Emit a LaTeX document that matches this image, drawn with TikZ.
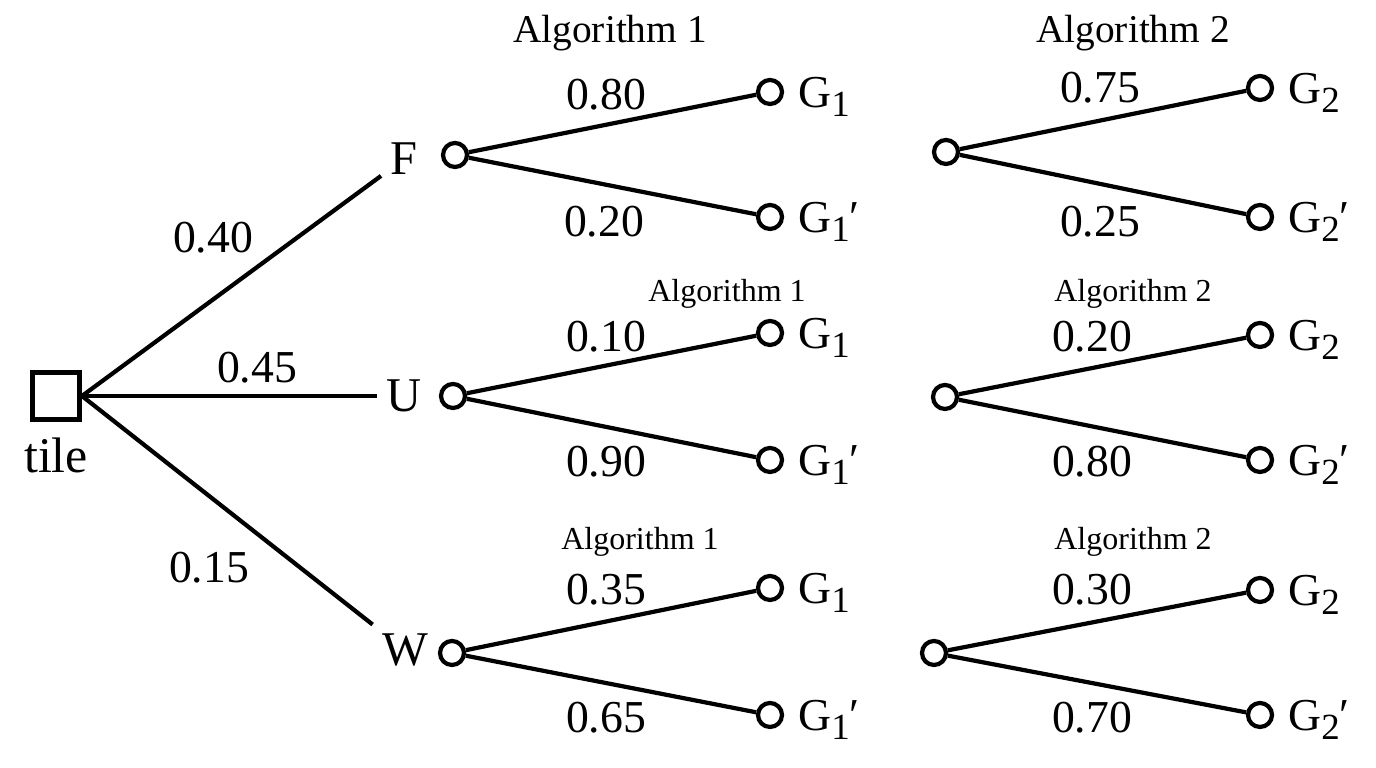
\documentclass[tikz,border=0pt]{standalone}
\usepackage{fontspec}
\setmainfont{Liberation Serif}
\usetikzlibrary{positioning}
\newcommand{\leafsub}[1]{\raisebox{-0.4ex}{\fontsize{10.5}{12}\selectfont #1}}

\begin{document}
\begin{tikzpicture}[
    chance/.style={circle, draw, line width=1.2pt, minimum size=0.24cm, inner sep=0pt},
    branch/.style={line width=1.2pt},
    prob/.style={font=\fontsize{13}{15}\selectfont, inner sep=1pt},
    state/.style={font=\fontsize{13.8}{16}\selectfont, inner sep=2.5pt},
    leaf/.style={font=\fontsize{13}{15}\selectfont, inner sep=1pt, anchor=west, yshift=-0.05cm},
    algbig/.style={font=\fontsize{11.2}{13}\selectfont},
    algsmall/.style={font=\fontsize{9.1}{11}\selectfont}]
  \useasboundingbox (0,0) rectangle (13.76,7.68);

  % root decision
  \node[draw, line width=1.4pt, minimum size=0.47cm, inner sep=0pt] (tile) at (0.56,3.72) {};
  \node[state, font=\fontsize{14.2}{16}\selectfont, below=0.06cm of tile] (tilelbl) {tile};
  \node[state] (F) at (4.04,6.09) {F};
  \node[state] (U) at (4.04,3.72) {U};
  \node[state] (W) at (4.05,1.18) {W};
  \draw[branch] (tile.east) -- (F);
  \draw[branch] (tile.east) -- (U);
  \draw[branch] (tile.east) -- (W);
  \node[prob] (pF) at (2.13,5.30) {0.40};
  \node[prob] (pU) at (2.57,4.00) {0.45};
  \node[prob] (pW) at (2.09,2.00) {0.15};

  % F branch
  \node[algbig] (fAlg1) at (6.10,7.35) {Algorithm 1};
  \node[algbig] (fAlg2) at (11.33,7.35) {Algorithm 2};
  \node[chance] (fA) at (4.55,6.13) {};
  \node[chance] (fA1) at (7.70,6.76) {};
  \node[chance] (fA1p) at (7.70,5.51) {};
  \draw[branch] (fA) -- (fA1);
  \draw[branch] (fA) -- (fA1p);
  \node[prob] (fp1) at (6.06,6.73) {0.80};
  \node[prob] (fp1p) at (6.04,5.46) {0.20};
  \node[leaf, right=0.1cm of fA1] (fA1l) {G\leafsub{1}};
  \node[leaf, right=0.1cm of fA1p] (fA1pl) {G\leafsub{1}′};
  \node[chance] (fB) at (9.46,6.16) {};
  \node[chance] (fB2) at (12.60,6.80) {};
  \node[chance] (fB2p) at (12.60,5.51) {};
  \draw[branch] (fB) -- (fB2);
  \draw[branch] (fB) -- (fB2p);
  \node[prob] (fp2) at (11.00,6.80) {0.75};
  \node[prob] (fp2p) at (11.00,5.46) {0.25};
  \node[leaf, right=0.1cm of fB2] (fB2l) {G\leafsub{2}};
  \node[leaf, right=0.1cm of fB2p] (fB2pl) {G\leafsub{2}′};

  % U branch
  \node[algsmall] (uAlg1) at (7.27,4.74) {Algorithm 1};
  \node[algsmall] (uAlg2) at (11.33,4.74) {Algorithm 2};
  \node[chance] (uA) at (4.53,3.72) {};
  \node[chance] (uA1) at (7.70,4.35) {};
  \node[chance] (uA1p) at (7.70,3.08) {};
  \draw[branch] (uA) -- (uA1);
  \draw[branch] (uA) -- (uA1p);
  \node[prob] (up1) at (6.06,4.31) {0.10};
  \node[prob] (up1p) at (6.06,3.06) {0.90};
  \node[leaf, right=0.1cm of uA1] (uA1l) {G\leafsub{1}};
  \node[leaf, right=0.1cm of uA1p] (uA1pl) {G\leafsub{1}′};
  \node[chance] (uB) at (9.45,3.71) {};
  \node[chance] (uB2) at (12.60,4.33) {};
  \node[chance] (uB2p) at (12.60,3.08) {};
  \draw[branch] (uB) -- (uB2);
  \draw[branch] (uB) -- (uB2p);
  \node[prob] (up2) at (10.92,4.31) {0.20};
  \node[prob] (up2p) at (10.92,3.06) {0.80};
  \node[leaf, right=0.1cm of uB2] (uB2l) {G\leafsub{2}};
  \node[leaf, right=0.1cm of uB2p] (uB2pl) {G\leafsub{2}′};

  % W branch
  \node[algsmall] (wAlg1) at (6.40,2.26) {Algorithm 1};
  \node[algsmall] (wAlg2) at (11.33,2.26) {Algorithm 2};
  \node[chance] (wA) at (4.52,1.15) {};
  \node[chance] (wA1) at (7.70,1.80) {};
  \node[chance] (wA1p) at (7.70,0.53) {};
  \draw[branch] (wA) -- (wA1);
  \draw[branch] (wA) -- (wA1p);
  \node[prob] (wp1) at (6.06,1.78) {0.35};
  \node[prob] (wp1p) at (6.06,0.50) {0.65};
  \node[leaf, right=0.1cm of wA1] (wA1l) {G\leafsub{1}};
  \node[leaf, right=0.1cm of wA1p] (wA1pl) {G\leafsub{1}′};
  \node[chance] (wB) at (9.34,1.15) {};
  \node[chance] (wB2) at (12.60,1.78) {};
  \node[chance] (wB2p) at (12.60,0.53) {};
  \draw[branch] (wB) -- (wB2);
  \draw[branch] (wB) -- (wB2p);
  \node[prob] (wp2) at (10.92,1.78) {0.30};
  \node[prob] (wp2p) at (10.92,0.50) {0.70};
  \node[leaf, right=0.1cm of wB2] (wB2l) {G\leafsub{2}};
  \node[leaf, right=0.1cm of wB2p] (wB2pl) {G\leafsub{2}′};
\end{tikzpicture}
\end{document}
